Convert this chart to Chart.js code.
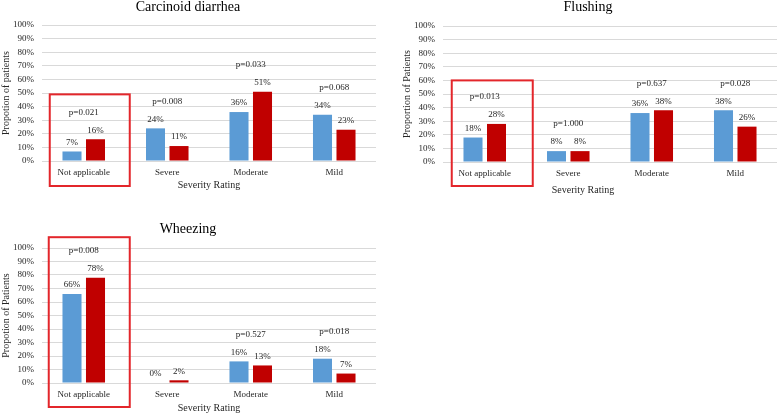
<!DOCTYPE html>
<html>
<head>
<meta charset="utf-8">
<script src="https://cdn.jsdelivr.net/npm/chart.js@4.4.1/dist/chart.umd.min.js"></script>
<style>
  html, body { margin: 0; padding: 0; background: #ffffff; }
  body { width: 778px; height: 413px; position: relative; overflow: hidden; }
  canvas { position: absolute; }
</style>
</head>
<body>
<canvas id="c1" width="378" height="200" style="left:0px;top:0px;"></canvas>
<canvas id="c2" width="388" height="200" style="left:390px;top:0px;"></canvas>
<canvas id="c3" width="378" height="191" style="left:0px;top:222px;"></canvas>
<script>
// ---------- data ----------
const categories = ['Not applicable', 'Severe', 'Moderate', 'Mild'];

const diarrheaTitle = 'Carcinoid diarrhea';
const diarrheaYTitle = 'Propotion of patients';
const diarrheaBlue = [7, 24, 36, 34];
const diarrheaRed = [16, 11, 51, 23];
const diarrheaP = ['p=0.021', 'p=0.008', 'p=0.033', 'p=0.068'];

const flushingTitle = 'Flushing';
const flushingYTitle = 'Proportion of Patients';
const flushingBlue = [18, 8, 36, 38];
const flushingRed = [28, 8, 38, 26];
const flushingP = ['p=0.013', 'p=1.000', 'p=0.637', 'p=0.028'];

const wheezingTitle = 'Wheezing';
const wheezingYTitle = 'Propotion of Patients';
const wheezingBlue = [66, 0, 16, 18];
const wheezingRed = [78, 2, 13, 7];
const wheezingP = ['p=0.008', null, 'p=0.527', 'p=0.018'];

const xAxisTitle = 'Severity Rating';
const yTicks = [0, 10, 20, 30, 40, 50, 60, 70, 80, 90, 100];

// ---------- styling ----------
const SERIF = '"Liberation Serif", "Times New Roman", serif';
Chart.defaults.font.family = SERIF;
const BLUE = '#5b9bd5';
const RED = '#c00000';
const BOX = '#e3262b';
const TEXT = '#262626';

const annotPlugin = {
  id: 'annot',
  afterDatasetsDraw(chart, args, opts) {
    const ctx = chart.ctx;
    const xs = chart.scales.x, ys = chart.scales.y;
    const area = chart.chartArea;
    ctx.save();
    ctx.fillStyle = TEXT;
    ctx.textAlign = 'center';
    ctx.textBaseline = 'middle';
    ctx.font = '9px ' + SERIF;
    // value labels
    chart.data.datasets.forEach((ds, di) => {
      const meta = chart.getDatasetMeta(di);
      meta.data.forEach((bar, i) => {
        ctx.fillText(ds.data[i] + '%', bar.x, bar.y - 9);
      });
    });
    // p values
    (opts.pvalues || []).forEach((p, i) => {
      if (!p) return;
      const maxV = Math.max(...chart.data.datasets.map(d => d.data[i]));
      ctx.fillText(p, xs.getPixelForValue(i), ys.getPixelForValue(maxV) - 27);
    });
    // red highlight box
    const b = opts.box;
    const cx = xs.getPixelForValue(b.index);
    const top = ys.getPixelForValue(b.top);
    ctx.strokeStyle = BOX;
    ctx.lineWidth = 2;
    ctx.strokeRect(cx + b.left, top, b.right - b.left, area.bottom + b.below - top);
    // x axis title
    ctx.fillStyle = TEXT;
    ctx.font = '10px ' + SERIF;
    ctx.fillText(opts.xTitle, (area.left + area.right) / 2 + opts.xTitleDx, area.bottom + opts.xTitleDy);
    ctx.restore();
  }
};

function makeChart(id, cfg) {
  const canvas = document.getElementById(id);
  return new Chart(canvas, {
    type: 'bar',
    data: {
      labels: categories,
      datasets: [
        { label: 'Series 1', data: cfg.blue, backgroundColor: BLUE, borderWidth: 0 },
        { label: 'Series 2', data: cfg.red, backgroundColor: RED, borderWidth: 0 }
      ]
    },
    options: {
      responsive: false,
      animation: false,
      events: [],
      categoryPercentage: 0.563,
      barPercentage: 0.81,
      layout: { padding: { left: cfg.padL, right: cfg.padR, top: 0, bottom: 0 } },
      plugins: {
        legend: { display: false },
        tooltip: { enabled: false },
        title: {
          display: true,
          text: cfg.title,
          color: '#000000',
          font: { size: 14, weight: 'normal', lineHeight: 1 },
          padding: { top: 0, bottom: cfg.titleGap }
        },
        annot: {
          pvalues: cfg.p,
          box: cfg.box,
          xTitle: xAxisTitle,
          xTitleDx: cfg.xTitleDx,
          xTitleDy: cfg.xTitleDy
        }
      },
      scales: {
        x: {
          grid: { display: false, drawTicks: false },
          border: { display: false },
          ticks: { color: TEXT, font: { size: 9 }, padding: 6, maxRotation: 0, autoSkip: false },
          afterFit(scale) { scale.height = cfg.xHeight; }
        },
        y: {
          min: 0,
          max: 100,
          afterBuildTicks(scale) { scale.ticks = yTicks.map(v => ({ value: v })); },
          grid: { color: '#d9d9d9', lineWidth: 1, drawTicks: false },
          border: { display: false },
          ticks: { color: TEXT, font: { size: 9 }, padding: 8, autoSkip: false, callback: v => v + '%' },
          title: {
            display: true,
            text: cfg.yTitle,
            color: TEXT,
            font: { size: 10 },
            padding: { top: cfg.yTitlePad, bottom: 0 }
          },
          afterFit(scale) { scale.width = cfg.yWidth; }
        }
      }
    },
    plugins: [annotPlugin]
  });
}

makeChart('c1', {
  title: diarrheaTitle, yTitle: diarrheaYTitle, blue: diarrheaBlue, red: diarrheaRed, p: diarrheaP,
  padL: 0, padR: 2, titleGap: 11, yWidth: 42, xHeight: 39, yTitlePad: 0,
  xTitleDx: 0, xTitleDy: 24,
  box: { index: 0, top: 49, left: -34, right: 46, below: 25 }
});
makeChart('c2', {
  title: flushingTitle, yTitle: flushingYTitle, blue: flushingBlue, red: flushingRed, p: flushingP,
  padL: 9, padR: 1, titleGap: 12, yWidth: 44, xHeight: 38, yTitlePad: 2,
  xTitleDx: -27, xTitleDy: 28,
  box: { index: 0, top: 60, left: -33, right: 48, below: 24 }
});
makeChart('c3', {
  title: wheezingTitle, yTitle: wheezingYTitle, blue: wheezingBlue, red: wheezingRed, p: wheezingP,
  padL: 0, padR: 2, titleGap: 12, yWidth: 42, xHeight: 30, yTitlePad: 0,
  xTitleDx: 0, xTitleDy: 25,
  box: { index: 0, top: 108, left: -35, right: 46, below: 24 }
});
</script>
</body>
</html>
